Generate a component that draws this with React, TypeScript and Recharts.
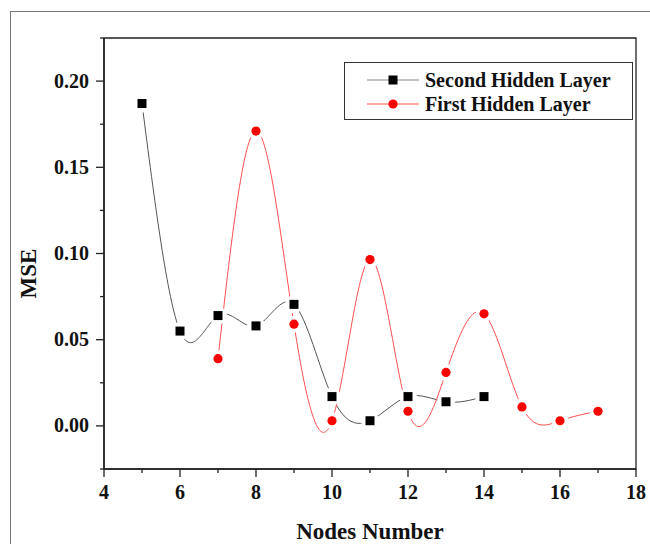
import React from 'react';
import { LineChart, Line, XAxis, YAxis, ReferenceArea, Label } from 'recharts';

const nodesSecond = [5, 6, 7, 8, 9, 10, 11, 12, 13, 14];
const mseSecond = [0.187, 0.055, 0.064, 0.058, 0.0705, 0.017, 0.003, 0.017, 0.014, 0.017];
const nodesFirst = [7, 8, 9, 10, 11, 12, 13, 14, 15, 16, 17];
const mseFirst = [0.039, 0.171, 0.059, 0.003, 0.0965, 0.0085, 0.031, 0.065, 0.011, 0.003, 0.0085];
const xMajorTicks = [4, 6, 8, 10, 12, 14, 16, 18];
const xAllTicks = [4, 5, 6, 7, 8, 9, 10, 11, 12, 13, 14, 15, 16, 17, 18];
const yMajorTicks = [0, 0.05, 0.1, 0.15, 0.2];
const yAllTicks = [-0.025, 0, 0.025, 0.05, 0.075, 0.1, 0.125, 0.15, 0.175, 0.2, 0.225];
const seriesNames = ['Second Hidden Layer', 'First Hidden Layer'];
const xLabel = 'Nodes Number';
const yLabel = 'MSE';

const secondData = nodesSecond.map((n, i) => ({ x: n, y: mseSecond[i] }));
const firstData = nodesFirst.map((n, i) => ({ x: n, y: mseFirst[i] }));

const FONT = '"Liberation Serif", "Times New Roman", serif';
const AXIS = '#222';

const isMajor = (v: number, list: number[]) => list.some((m) => Math.abs(m - v) < 1e-9);

const XTick = (props: any) => {
  const { x, y, payload } = props;
  const major = isMajor(payload.value, xMajorTicks);
  return (
    <g>
      <line x1={x} x2={x} y1={y} y2={y + (major ? 8 : 4)} stroke={AXIS} strokeWidth={1.3} />
      {major && (
        <text x={x} y={y + 30} textAnchor="middle" fontFamily={FONT} fontWeight="bold" fontSize={20} fill="#111">
          {payload.value}
        </text>
      )}
    </g>
  );
};

const YTick = (props: any) => {
  const { x, y, payload } = props;
  const major = isMajor(payload.value, yMajorTicks);
  return (
    <g>
      <line x1={x} x2={x - (major ? 8 : 4)} y1={y} y2={y} stroke={AXIS} strokeWidth={1.3} />
      {major && (
        <text x={x - 15} y={y + 6.5} textAnchor="end" fontFamily={FONT} fontWeight="bold" fontSize={20} fill="#111">
          {payload.value.toFixed(2)}
        </text>
      )}
    </g>
  );
};

const SquareDot = (props: any) => {
  const { cx, cy, index } = props;
  return (
    <g key={`sq-${index}`}>
      <circle cx={cx} cy={cy} r={9} fill="#fff" />
      <rect x={cx - 4.5} y={cy - 4.5} width={9} height={9} fill="#000" />
    </g>
  );
};

const CircleDot = (props: any) => {
  const { cx, cy, index } = props;
  return (
    <g key={`ci-${index}`}>
      <circle cx={cx} cy={cy} r={8.5} fill="#fff" />
      <circle cx={cx} cy={cy} r={4.6} fill="#ff0000" />
    </g>
  );
};

export default function App() {
  return (
    <div style={{ position: 'fixed', left: 0, top: 0, width: 650, height: 544, overflow: 'hidden', background: '#fff' }}>
      <div
        style={{
          position: 'absolute',
          left: 10,
          top: 11,
          width: 640,
          height: 533,
          borderLeft: '1px solid #777',
          borderTop: '1px solid #777',
          boxSizing: 'border-box',
        }}
      />
      <div style={{ position: 'absolute', left: 0, top: 0 }}>
        <LineChart width={650} height={544} margin={{ top: 38, right: 14, bottom: 0, left: 0 }}>
          <XAxis
            dataKey="x"
            type="number"
            domain={[4, 18]}
            ticks={xAllTicks}
            interval={0}
            tickSize={0}
            tickMargin={0}
            tickLine={false}
            tick={<XTick />}
            axisLine={{ stroke: AXIS, strokeWidth: 1.5 }}
            height={75}
            allowDataOverflow
          >
            <Label
              value={xLabel}
              position="insideBottom"
              offset={5}
              style={{ fontFamily: FONT, fontWeight: 'bold', fontSize: 23, fill: '#111' }}
            />
          </XAxis>
          <YAxis
            type="number"
            domain={[-0.025, 0.225]}
            ticks={yAllTicks}
            interval={0}
            tickSize={0}
            tickMargin={0}
            tickLine={false}
            tick={<YTick />}
            axisLine={{ stroke: AXIS, strokeWidth: 1.5 }}
            width={104}
            allowDataOverflow
          >
            <Label
              content={(p: any) => {
                const vb = p.viewBox;
                const cx = vb.x + 28;
                const cy = vb.y + vb.height / 2 + 20;
                return (
                  <text
                    x={cx}
                    y={cy}
                    transform={`rotate(-90 ${cx} ${cy})`}
                    textAnchor="middle"
                    dominantBaseline="central"
                    fontFamily={FONT}
                    fontWeight="bold"
                    fontSize={23}
                    fill="#111"
                  >
                    {yLabel}
                  </text>
                );
              }}
            />
          </YAxis>
          <ReferenceArea x1={4} x2={18} y1={-0.025} y2={0.225} fill="none" stroke={AXIS} strokeWidth={1.3} />
          <Line
            data={secondData}
            dataKey="y"
            name={seriesNames[0]}
            type="natural"
            stroke="#555"
            strokeWidth={1}
            dot={<SquareDot />}
            isAnimationActive={false}
          />
          <Line
            data={firstData}
            dataKey="y"
            name={seriesNames[1]}
            type="natural"
            stroke="#ff5050"
            strokeWidth={1}
            dot={<CircleDot />}
            isAnimationActive={false}
          />
        </LineChart>
      </div>
      <div
        style={{
          position: 'absolute',
          left: 344,
          top: 62,
          width: 289,
          height: 58,
          border: '1px solid #333',
          boxSizing: 'border-box',
          background: '#fff',
          fontFamily: FONT,
          fontWeight: 'bold',
          fontSize: 20,
          color: '#111',
        }}
      >
        {seriesNames.map((name, i) => (
          <div
            key={name}
            style={{ position: 'absolute', left: 22, top: i === 0 ? 5 : 29, height: 24, display: 'flex', alignItems: 'center' }}
          >
            <svg width={52} height={24} style={{ display: 'block' }}>
              <line x1={0} x2={52} y1={12} y2={12} stroke={i === 0 ? '#888' : '#ff5050'} strokeWidth={1} />
              {i === 0 ? (
                <rect x={21.5} y={7.5} width={9} height={9} fill="#000" />
              ) : (
                <circle cx={26} cy={12} r={4.6} fill="#ff0000" />
              )}
            </svg>
            <span style={{ marginLeft: 6, lineHeight: '24px', whiteSpace: 'nowrap' }}>{name}</span>
          </div>
        ))}
      </div>
    </div>
  );
}
